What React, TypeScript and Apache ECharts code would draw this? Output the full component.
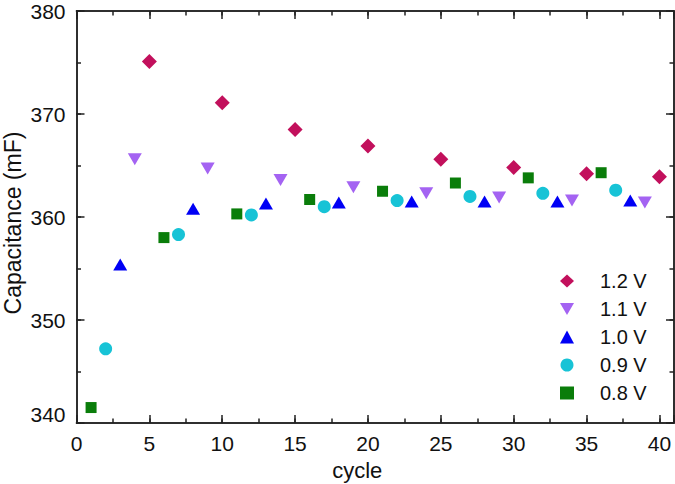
import React, { useEffect, useRef } from "react";
import * as echarts from "echarts";

const seriesNames = ["1.2 V", "1.1 V", "1.0 V", "0.9 V", "0.8 V"];
const cycles12 = [5, 10, 15, 20, 25, 30, 35, 40];
const cap12 = [375.1, 371.1, 368.5, 366.9, 365.6, 364.8, 364.2, 363.9];
const cycles11 = [4, 9, 14, 19, 24, 29, 34, 39];
const cap11 = [365.6, 364.7, 363.6, 362.9, 362.3, 361.9, 361.6, 361.4];
const cycles10 = [3, 8, 13, 18, 23, 28, 33, 38];
const cap10 = [355.4, 360.8, 361.3, 361.4, 361.5, 361.5, 361.5, 361.6];
const cycles09 = [2, 7, 12, 17, 22, 27, 32, 37];
const cap09 = [347.2, 358.3, 360.2, 361.0, 361.6, 362.0, 362.3, 362.6];
const cycles08 = [1, 6, 11, 16, 21, 26, 31, 36];
const cap08 = [341.5, 358.0, 360.3, 361.7, 362.5, 363.3, 363.8, 364.3];

const FONT = "'Liberation Sans', Arial, sans-serif";
const AXIS_COLOR = "#222";
const TEXT_COLOR = "#111";

export default function App() {
  const ref = useRef<HTMLDivElement>(null);
  useEffect(() => {
    if (!ref.current) return;
    const chart = echarts.init(ref.current, null, { renderer: "svg" });
    const pair = (xs: number[], ys: number[]) => xs.map((x, i) => [x, ys[i]]);

    const xBase = {
      type: "value" as const,
      min: 0,
      max: 41,
      splitLine: { show: false },
      axisLine: { show: true, onZero: false, lineStyle: { color: AXIS_COLOR, width: 1.5 } },
    };
    const yBase = {
      type: "value" as const,
      min: 340,
      max: 380,
      splitLine: { show: false },
      axisLine: { show: true, onZero: false, lineStyle: { color: AXIS_COLOR, width: 1.5 } },
    };
    const tick = (len: number) => ({
      show: true,
      inside: true,
      length: len,
      lineStyle: { color: AXIS_COLOR, width: 1.5 },
    });

    const option = {
      animation: false,
      backgroundColor: "#fff",
      textStyle: { fontFamily: FONT },
      grid: {
        left: 76.5,
        right: 1,
        top: 11,
        bottom: 61,
        containLabel: false,
        outerBoundsMode: "none",
      },
      xAxis: [
        {
          ...xBase,
          position: "bottom",
          interval: 5,
          axisTick: tick(8),
          axisLabel: {
            color: TEXT_COLOR,
            fontSize: 21,
            fontFamily: FONT,
            margin: 10,
            formatter: (v: number) => (v % 5 === 0 ? String(v) : ""),
          },
          name: "cycle",
          nameLocation: "middle",
          nameGap: 36,
          nameMoveOverlap: false,
          nameTextStyle: {
            color: TEXT_COLOR,
            fontSize: 22,
            fontFamily: FONT,
            padding: [0, 36, 0, 0],
          },
        },
        { ...xBase, position: "top", interval: 5, axisTick: tick(8), axisLabel: { show: false } },
        // third/fourth axes get flipped by ECharts to the opposite side of the one requested
        { ...xBase, position: "bottom", interval: 2.5, axisTick: tick(4.5), axisLabel: { show: false } },
        { ...xBase, position: "top", interval: 2.5, axisTick: tick(4.5), axisLabel: { show: false } },
      ],
      yAxis: [
        {
          ...yBase,
          position: "left",
          interval: 10,
          axisTick: tick(8),
          axisLabel: {
            color: TEXT_COLOR,
            fontSize: 21,
            fontFamily: FONT,
            margin: 11,
            formatter: (v: number) => (v === 340 ? "{lo|340}" : String(v)),
            rich: {
              lo: { color: TEXT_COLOR, fontSize: 21, fontFamily: FONT, padding: [0, 0, 18, 0] },
            },
          },
          name: "Capacitance (mF)",
          nameLocation: "middle",
          nameGap: 52,
          nameMoveOverlap: false,
          nameTextStyle: {
            color: TEXT_COLOR,
            fontSize: 23,
            fontFamily: FONT,
            padding: [0, 12, 0, 0],
          },
        },
        { ...yBase, position: "right", interval: 10, axisTick: tick(8), axisLabel: { show: false } },
        { ...yBase, position: "left", interval: 5, axisTick: tick(4.5), axisLabel: { show: false } },
        { ...yBase, position: "right", interval: 5, axisTick: tick(4.5), axisLabel: { show: false } },
      ],
      legend: {
        orient: "vertical",
        left: 555,
        top: 266,
        itemWidth: 14,
        itemHeight: 13,
        itemGap: 8,
        textStyle: { color: TEXT_COLOR, fontSize: 20, fontFamily: FONT, padding: [0, 0, 0, 21] },
        data: seriesNames,
      },
      series: [
        {
          name: seriesNames[0],
          type: "scatter",
          symbol: "diamond",
          symbolSize: 15,
          itemStyle: { color: "#C2105C", opacity: 1 },
          data: pair(cycles12, cap12),
        },
        {
          name: seriesNames[1],
          type: "scatter",
          symbol: "path://M0,0 L10,0 L5,8.66 Z",
          symbolSize: [14, 12],
          itemStyle: { color: "#A463F2", opacity: 1 },
          data: pair(cycles11, cap11),
        },
        {
          name: seriesNames[2],
          type: "scatter",
          symbol: "triangle",
          symbolSize: [14, 12],
          itemStyle: { color: "#0000F5", opacity: 1 },
          data: pair(cycles10, cap10),
        },
        {
          name: seriesNames[3],
          type: "scatter",
          symbol: "circle",
          symbolSize: 13,
          itemStyle: { color: "#17C3D6", opacity: 1 },
          data: pair(cycles09, cap09),
        },
        {
          name: seriesNames[4],
          type: "scatter",
          symbol: "rect",
          symbolSize: 11,
          itemStyle: { color: "#0A7D0A", opacity: 1 },
          data: pair(cycles08, cap08),
        },
      ],
    };
    chart.setOption(option as any);
    return () => chart.dispose();
  }, []);
  return (
    <div
      ref={ref}
      style={{ position: "absolute", left: 0, top: 0, width: 675, height: 484, background: "#fff" }}
    />
  );
}
